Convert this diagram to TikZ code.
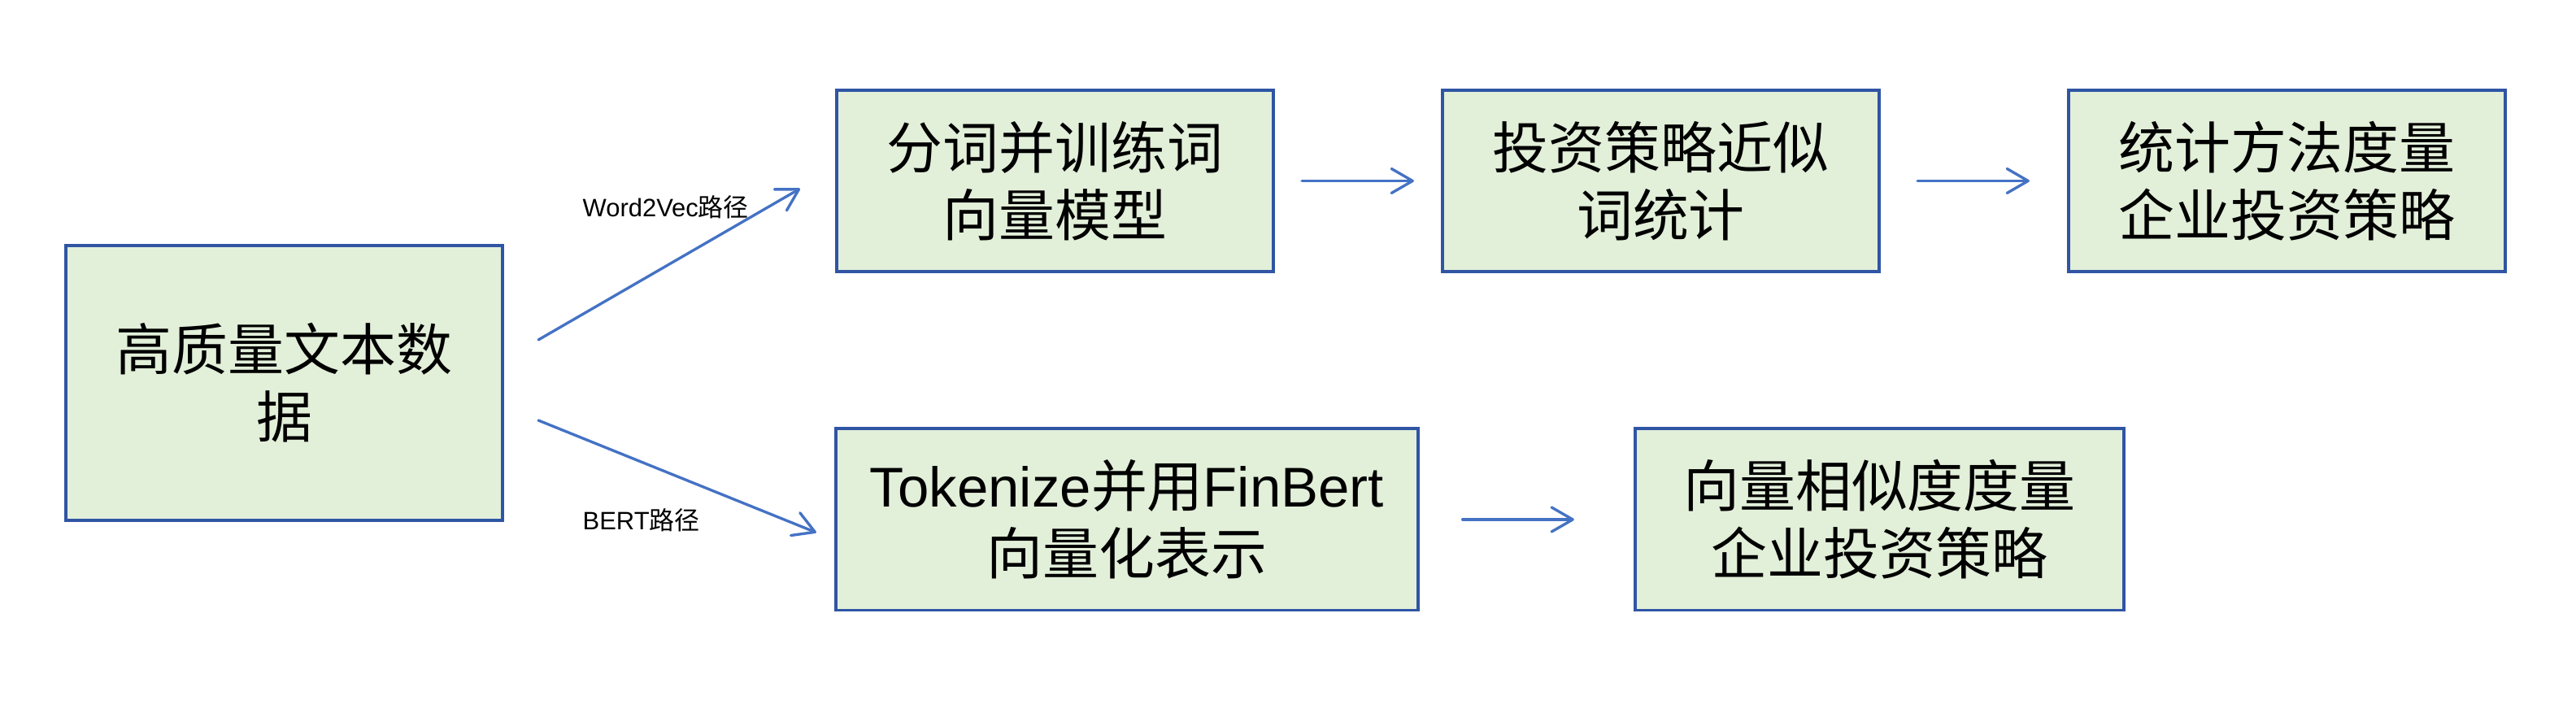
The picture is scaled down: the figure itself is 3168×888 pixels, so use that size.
\documentclass[tikz,border=0pt]{standalone}
\usepackage{fontspec}
\setmainfont{Liberation Sans}
\newfontfamily\cjk{Noto Sans CJK SC}
\usetikzlibrary{arrows.meta}
\definecolor{boxfill}{HTML}{E2EFD9}
\definecolor{boxdraw}{HTML}{2F55A4}
\definecolor{arrcol}{HTML}{4472C4}
\begin{document}
\begin{tikzpicture}[x=0.01cm,y=0.01cm,
  box/.style={draw=boxdraw, line width=1.1pt, fill=boxfill, align=center, inner sep=0pt,
    minimum height=2.23cm, font=\fontsize{19.6}{23.6}\selectfont\cjk},
  arr/.style={draw=arrcol, line width=0.95pt, line cap=round,
    -{Straight Barb[length=0.26cm,width=0.3cm,round]}},
  lab/.style={font=\fontsize{8.8}{10}\selectfont, anchor=west, inner sep=0pt}]
\useasboundingbox (0,0) rectangle (3168,888);
\node[box, minimum width=5.37cm, minimum height=3.38cm] (A) at (349.5,417) {高质量文本数\\据};
\node[box, minimum width=5.37cm] (B) at (1297.5,665.5) {分词并训练词\\向量模型};
\node[box, minimum width=5.37cm] (C) at (2042.5,665.5) {投资策略近似\\词统计};
\node[box, minimum width=5.37cm] (D) at (2812.5,665.5) {统计方法度量\\企业投资策略};
\node[box, minimum width=7.15cm] (E) at (1386,249) {{\rmfamily Tokenize}并用{\rmfamily FinBert}\\向量化表示};
\node[box, minimum width=6.01cm] (F) at (2311.5,249) {向量相似度度量\\企业投资策略};
\draw[arr] ([shift={(42,53)}]A.east) -- ([shift={(-43,-9.5)}]B.west);
\draw[arr] ([shift={(42,-46)}]A.east) -- ([shift={(-22.5,-16)}]E.west);
\draw[arr, shorten <=0.33cm, shorten >=0.33cm] (B.east) -- (C.west);
\draw[arr, shorten <=0.45cm, shorten >=0.46cm] (C.east) -- (D.west);
\draw[arr, shorten <=0.53cm, shorten >=0.73cm] (E.east) -- (F.west);
\node[lab] (l1) at (716,633) {Word2Vec{\cjk 路径}};
\node[lab] (l2) at (716,248) {BERT{\cjk 路径}};
\end{tikzpicture}
\end{document}
